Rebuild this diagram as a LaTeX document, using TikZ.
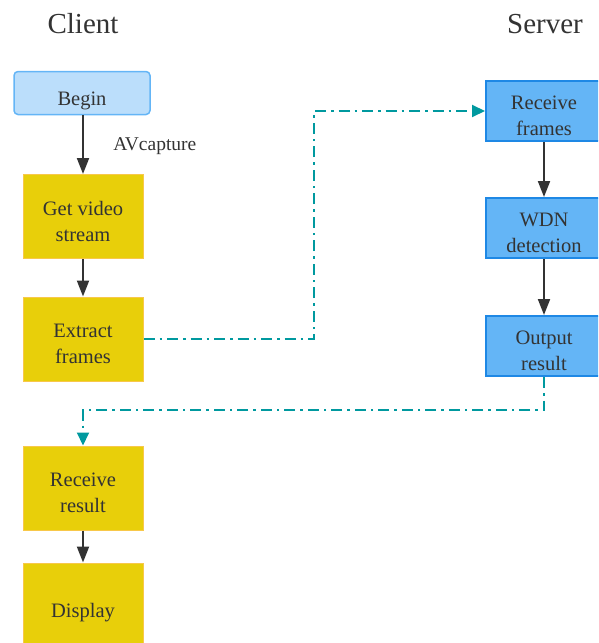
\documentclass[tikz,border=0pt]{standalone}
\usepackage{fontspec}
\setmainfont{Liberation Serif}
\usetikzlibrary{arrows.meta}
\definecolor{txt}{HTML}{333333}
\definecolor{ybox}{HTML}{E8CF0A}
\definecolor{yedge}{HTML}{F8C84A}
\definecolor{lblue}{HTML}{BBDEFB}
\definecolor{lbedge}{HTML}{64B5F6}
\definecolor{sblue}{HTML}{64B5F6}
\definecolor{sbedge}{HTML}{1E88E5}
\definecolor{teal}{HTML}{00999F}
\tikzset{
  btxt/.style={text=txt, align=center, inner sep=0pt, yshift=-4.5pt,
    font=\fontsize{20.5}{26}\selectfont},
  one/.style={btxt, yshift=-3.5pt},
  ybx/.style={draw=yedge, fill=ybox, line width=1pt, minimum width=120pt, minimum height=84pt,
    inner sep=0pt},
  sbx/.style={draw=sbedge, fill=sblue, line width=2pt, minimum width=116pt, minimum height=60pt,
    inner sep=0pt},
  flow/.style={draw=txt, line width=2pt, -{Triangle[length=16pt,width=12pt]}},
  link/.style={draw=teal, line width=2pt, dash pattern=on 11pt off 5pt on 2.5pt off 5pt,
    -{Triangle[length=13pt,width=12pt]}},
  head/.style={text=txt, font=\fontsize{29}{32}\selectfont}
}
\begin{document}
\begin{tikzpicture}[x=1pt,y=-1pt]
\useasboundingbox (0,0) rectangle (598,643);
\clip (0,0) rectangle (598,643);
\node[head] (client) at (83,24) {Client};
\node[head] (server) at (545,24) {Server};
% client side
\node[draw=lbedge, fill=lblue, line width=1.5pt, rounded corners=4pt, minimum width=136pt,
  minimum height=43pt, inner sep=0pt, label={[one]center:Begin}] (begin) at (82,93) {};
\node[ybx, label={[btxt]center:Get video\\stream}] (get) at (83,216.5) {};
\node[ybx, label={[btxt]center:Extract\\frames}] (extract) at (83,339) {};
\node[ybx, label={[btxt]center:Receive\\result}] (recv) at (83,488) {};
\node[ybx, label={[one]center:Display}] (display) at (83,605) {};
% server side
\node[sbx, label={[btxt]center:Receive\\frames}] (rframes) at (544,111) {};
\node[sbx, label={[btxt]center:WDN\\detection}] (wdn) at (544,228) {};
\node[sbx, label={[btxt]center:Output\\result}] (out) at (544,346) {};
% local flow
\draw[flow] (begin.south -| get.north) -- node[right=26pt, pos=0.52, text=txt, font=\fontsize{19.5}{22}\selectfont] {AVcapture} (get.north);
\draw[flow] (get) -- (extract);
\draw[flow] (recv) -- (display);
\draw[flow] (rframes) -- (wdn);
\draw[flow] (wdn) -- (out);
% transfers between client and server
\coordinate (c1) at (314,339);
\coordinate (c2) at (314,111);
\draw[link] (extract.east) -- (c1) -- (c2) -- (rframes.west);
\coordinate (c3) at (544,410);
\coordinate (c4) at (83,410);
\draw[link] (out.south) -- (c3) -- (c4) -- (recv.north);
\end{tikzpicture}
\end{document}
